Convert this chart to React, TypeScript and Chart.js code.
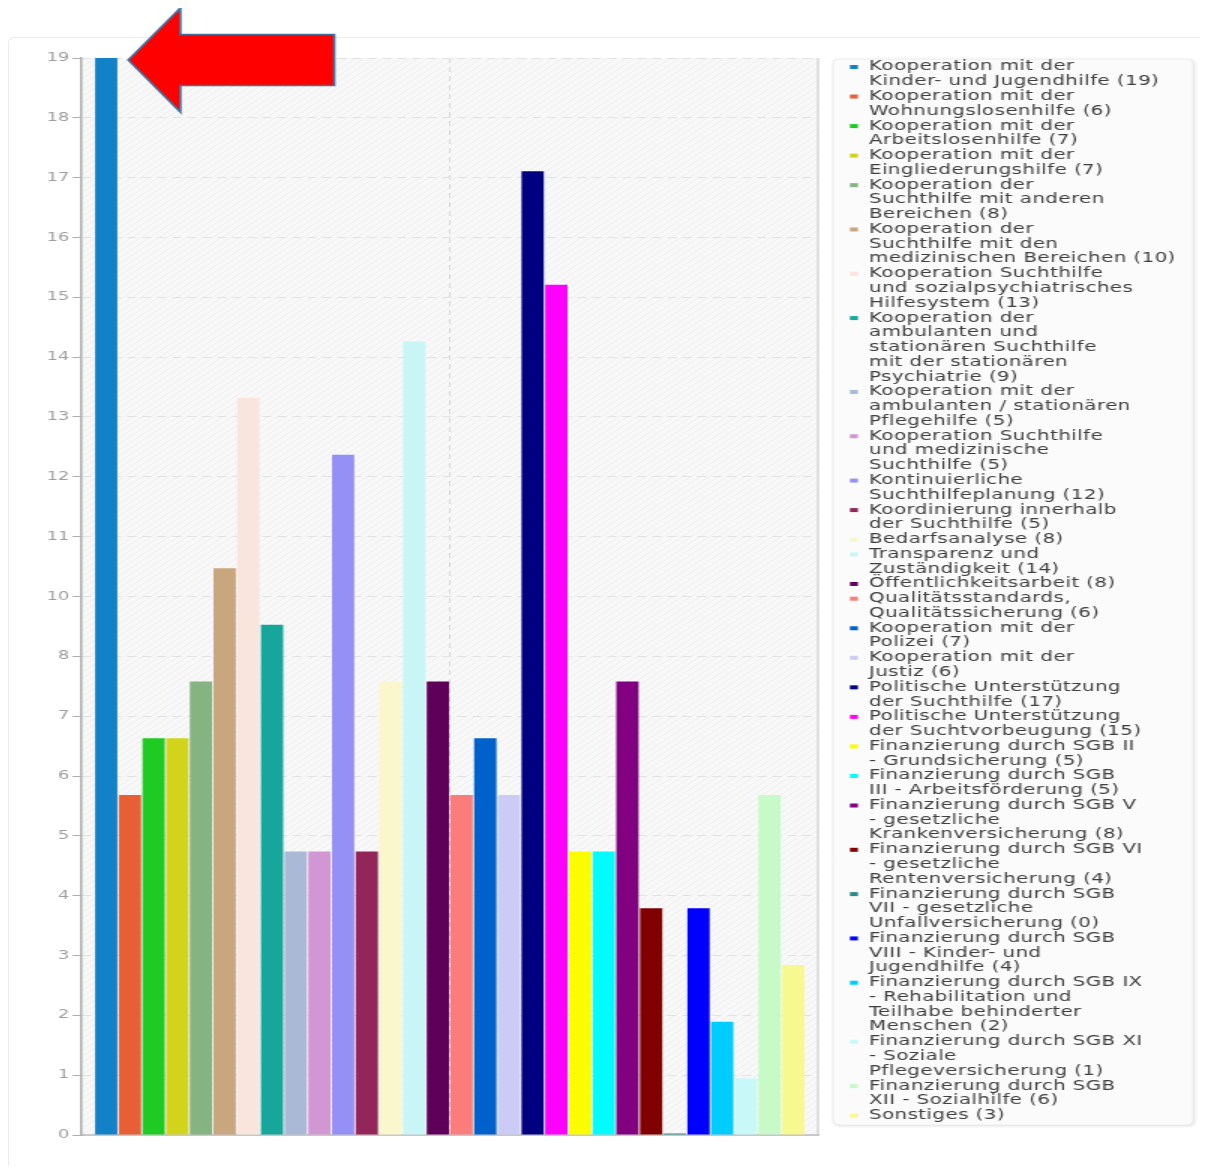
import React, { useEffect, useRef } from "react";
import { Chart, registerables } from "chart.js";

Chart.register(...registerables);

// Series names (legend line breaks kept), counts and colours
const SERIES_LINES: string[][] = [
  ["Kooperation mit der", "Kinder- und Jugendhilfe"],
  ["Kooperation mit der", "Wohnungslosenhilfe"],
  ["Kooperation mit der", "Arbeitslosenhilfe"],
  ["Kooperation mit der", "Eingliederungshilfe"],
  ["Kooperation der", "Suchthilfe mit anderen", "Bereichen"],
  ["Kooperation der", "Suchthilfe mit den", "medizinischen Bereichen"],
  ["Kooperation Suchthilfe", "und sozialpsychiatrisches", "Hilfesystem"],
  ["Kooperation der", "ambulanten und", "stationären Suchthilfe", "mit der stationären", "Psychiatrie"],
  ["Kooperation mit der", "ambulanten / stationären", "Pflegehilfe"],
  ["Kooperation Suchthilfe", "und medizinische", "Suchthilfe"],
  ["Kontinuierliche", "Suchthilfeplanung"],
  ["Koordinierung innerhalb", "der Suchthilfe"],
  ["Bedarfsanalyse"],
  ["Transparenz und", "Zuständigkeit"],
  ["Öffentlichkeitsarbeit"],
  ["Qualitätsstandards,", "Qualitätssicherung"],
  ["Kooperation mit der", "Polizei"],
  ["Kooperation mit der", "Justiz"],
  ["Politische Unterstützung", "der Suchthilfe"],
  ["Politische Unterstützung", "der Suchtvorbeugung"],
  ["Finanzierung durch SGB II", "- Grundsicherung"],
  ["Finanzierung durch SGB", "III - Arbeitsförderung"],
  ["Finanzierung durch SGB V", "- gesetzliche", "Krankenversicherung"],
  ["Finanzierung durch SGB VI", "- gesetzliche", "Rentenversicherung"],
  ["Finanzierung durch SGB", "VII - gesetzliche", "Unfallversicherung"],
  ["Finanzierung durch SGB", "VIII - Kinder- und", "Jugendhilfe"],
  ["Finanzierung durch SGB IX", "- Rehabilitation und", "Teilhabe behinderter", "Menschen"],
  ["Finanzierung durch SGB XI", "- Soziale", "Pflegeversicherung"],
  ["Finanzierung durch SGB", "XII - Sozialhilfe"],
  ["Sonstiges"],
];

const SERIES_VALUES: number[] = [
  19, 6, 7, 7, 8, 10, 13, 9, 5, 5, 12, 5, 8, 14, 8, 6, 7, 6, 17, 15, 5, 5, 8, 4, 0, 4, 2, 1, 6, 3,
];

const SERIES_COLORS: string[] = [
  "#1281c8", "#e85f35", "#1fcb23", "#d2d41b", "#86b382", "#c8a67e", "#fae5dd", "#17a69b",
  "#a9b9d6", "#d197d4", "#9590f5", "#922658", "#fbf7cc", "#c8f6f6", "#5e005a", "#fa7d7b",
  "#0060cc", "#cccbf6", "#000080", "#ff00ff", "#fcfc00", "#00fcfc", "#800080", "#800000",
  "#2b8a84", "#0000ff", "#00cdff", "#c8f8f8", "#c8fac8", "#f8f890",
];

const CATEGORIES: string[] = [""];

const Y_MAX = 19;
const Y_TICK_COUNT = 19;

// Canvas is drawn narrow and shown wider (horizontal stretch)
const BITMAP_W = 800;
const BITMAP_H = 1158;
const SHOW_W = 1200;

const FONT = "'DejaVu Sans', sans-serif";
const LEGEND_FONT_SIZE = 13.2;
const LEGEND_LINE = 14.77;

function lineTexts(i: number): string[] {
  const lines = SERIES_LINES[i].slice();
  lines[lines.length - 1] = `${lines[lines.length - 1]} (${SERIES_VALUES[i]})`;
  return lines;
}

// Light hatched fill behind the bars
const plotBackground = {
  id: "plotBackground",
  beforeDraw(chart: any) {
    const { ctx, chartArea } = chart;
    const tile = document.createElement("canvas");
    tile.width = 6;
    tile.height = 6;
    const t = tile.getContext("2d")!;
    t.fillStyle = "#f8f8f8";
    t.fillRect(0, 0, 6, 6);
    t.strokeStyle = "rgba(0,0,0,0.035)";
    t.lineWidth = 1;
    t.beginPath();
    t.moveTo(0, 6);
    t.lineTo(6, 0);
    t.stroke();
    const pattern = ctx.createPattern(tile, "repeat");
    ctx.save();
    ctx.fillStyle = pattern;
    ctx.fillRect(chartArea.left, chartArea.top, chartArea.right - chartArea.left, chartArea.bottom - chartArea.top);
    ctx.strokeStyle = "#d6d6d6";
    ctx.lineWidth = 1.5;
    ctx.beginPath();
    ctx.moveTo(chartArea.right, chartArea.top);
    ctx.lineTo(chartArea.right, chartArea.bottom);
    ctx.stroke();
    ctx.restore();
  },
};

// Legend panel to the right of the plot, wrapped labels
const legendPanel = {
  id: "legendPanel",
  afterDraw(chart: any) {
    const { ctx, chartArea } = chart;
    const left = chartArea.right + 10;
    const top = chartArea.top + 1;
    const right = chart.width - 10;
    const bottom = chartArea.bottom - 10;
    ctx.save();
    ctx.shadowColor = "rgba(0,0,0,0.14)";
    ctx.shadowBlur = 3;
    ctx.shadowOffsetX = 1;
    ctx.shadowOffsetY = 1;
    ctx.fillStyle = "#fbfbfb";
    ctx.beginPath();
    ctx.roundRect(left, top, right - left, bottom - top, 4);
    ctx.fill();
    ctx.shadowColor = "transparent";
    ctx.strokeStyle = "#ececec";
    ctx.lineWidth = 1;
    ctx.stroke();

    ctx.font = `${LEGEND_FONT_SIZE}px ${FONT}`;
    if ("letterSpacing" in ctx) (ctx as any).letterSpacing = "0.3px";
    ctx.textBaseline = "middle";
    ctx.textAlign = "left";
    let y = top + 8;
    chart.data.datasets.forEach((ds: any, i: number) => {
      ctx.fillStyle = ds.backgroundColor;
      ctx.fillRect(left + 11.3, y - 2, 5.3, 4);
      ctx.fillStyle = "#404040";
      lineTexts(i).forEach((line) => {
        ctx.fillText(line, left + 24, y);
        y += LEGEND_LINE;
      });
    });
    ctx.restore();
  },
};

// Red arrow pointing at the tallest bar
const pointerArrow = {
  id: "pointerArrow",
  afterDraw(chart: any) {
    const bar = chart.getDatasetMeta(0).data[0];
    if (!bar) return;
    const { ctx } = chart;
    const tx = bar.x + bar.width / 2 + 7.3;
    const ty = bar.y + 2;
    const headBack = 34.7;
    const tail = 137.3;
    const headHalf = 52;
    const shaftHalf = 25.5;
    ctx.save();
    ctx.beginPath();
    ctx.moveTo(tx, ty);
    ctx.lineTo(tx + headBack, ty - headHalf);
    ctx.lineTo(tx + headBack, ty - shaftHalf);
    ctx.lineTo(tx + tail, ty - shaftHalf);
    ctx.lineTo(tx + tail, ty + shaftHalf);
    ctx.lineTo(tx + headBack, ty + shaftHalf);
    ctx.lineTo(tx + headBack, ty + headHalf);
    ctx.closePath();
    ctx.fillStyle = "#ff0000";
    ctx.fill();
    ctx.strokeStyle = "#41719c";
    ctx.lineWidth = 1.6;
    ctx.lineJoin = "miter";
    ctx.stroke();
    ctx.restore();
  },
};

export default function App() {
  const canvasRef = useRef<HTMLCanvasElement | null>(null);

  useEffect(() => {
    const canvas = canvasRef.current;
    if (!canvas) return;
    Chart.defaults.font.family = FONT;

    const datasets = SERIES_VALUES.map((v, i) => ({
      label: `${SERIES_LINES[i].join(" ")} (${v})`,
      data: [v],
      backgroundColor: SERIES_COLORS[i],
      borderWidth: 0,
      minBarLength: 1.5,
      categoryPercentage: 0.965,
      barPercentage: 0.94,
    }));

    const chart = new Chart(canvas, {
      type: "bar",
      data: { labels: CATEGORIES, datasets },
      options: {
        animation: false,
        responsive: false,
        devicePixelRatio: 1,
        layout: { padding: { top: 50, right: 260, bottom: 31, left: 0 } },
        plugins: {
          legend: { display: false },
          tooltip: { enabled: false },
        },
        scales: {
          x: {
            grid: { offset: false, color: "#dadada", drawTicks: false, lineWidth: 1 },
            border: { display: true, color: "#c8c8c8", width: 2, dash: [5, 4] },
            ticks: { display: false },
          },
          y: {
            min: 0,
            max: Y_MAX,
            afterFit: (scale: any) => {
              scale.width = 49;
            },
            ticks: {
              count: Y_TICK_COUNT,
              color: "#9e9e9e",
              font: { size: 12, family: FONT },
              padding: 2,
              callback: (v: any) => String(Math.round(Number(v) + 1e-6)),
            },
            grid: { color: "#e2e2e2", tickColor: "#b0b0b0", tickLength: 6, lineWidth: 1 },
            border: { display: true, color: "#acacac", width: 1.5, dash: [6, 4] },
          },
        },
      },
      plugins: [plotBackground, legendPanel, pointerArrow],
    });

    return () => chart.destroy();
  }, []);

  return (
    <div style={{ position: "relative", width: SHOW_W, height: BITMAP_H, overflow: "hidden" }}>
      <div
        style={{
          position: "absolute",
          left: 0,
          top: 29,
          width: SHOW_W + 80,
          height: BITMAP_H + 40,
          borderTop: "1px solid #ebebeb",
          borderLeft: "1px solid #ebebeb",
          borderTopLeftRadius: 6,
          background: "#ffffff",
          boxSizing: "border-box",
        }}
      />
      <canvas
        ref={canvasRef}
        width={BITMAP_W}
        height={BITMAP_H}
        style={{ position: "absolute", left: 0, top: 0, width: SHOW_W, height: BITMAP_H }}
      />
    </div>
  );
}
